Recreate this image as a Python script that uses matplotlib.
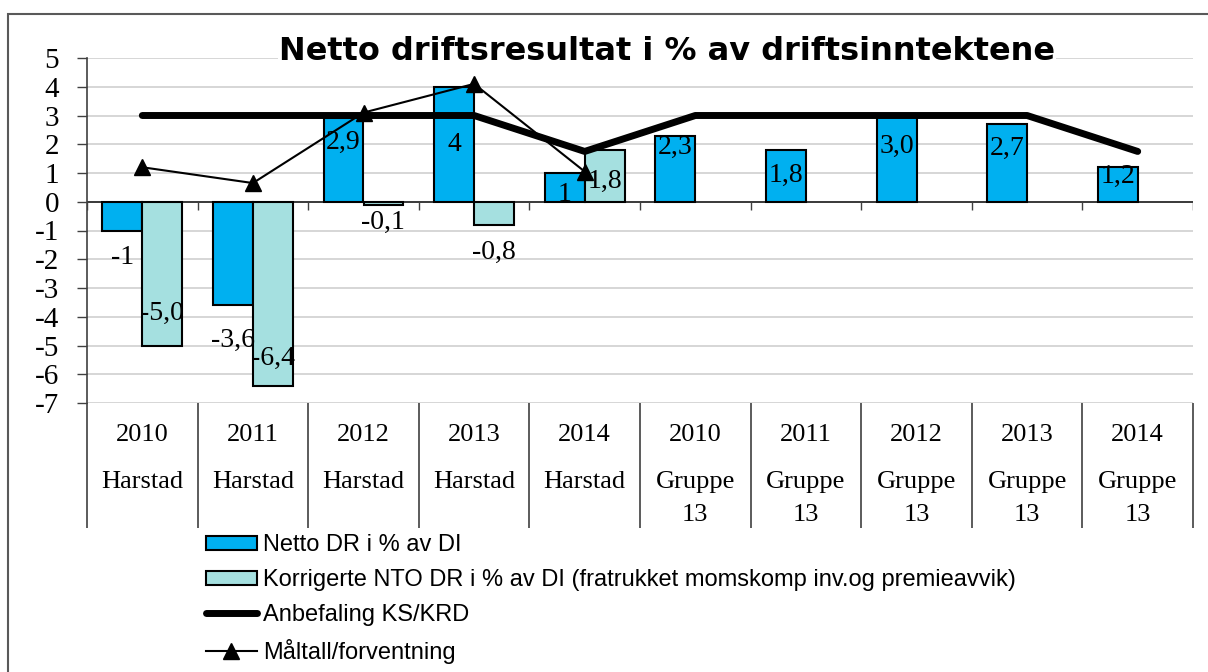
import numpy as np
import matplotlib
matplotlib.use('Agg')
from matplotlib import pyplot as plt
from matplotlib.patches import Patch, Rectangle
from matplotlib.lines import Line2D
import matplotlib.transforms as mtransforms

#####

years = ['2010', '2011', '2012', '2013', '2014'] * 2
groups = ['Harstad'] * 5 + ['Gruppe\n13'] * 5

netto = [-1, -3.6, 2.9, 4, 1, 2.3, 1.8, 3.0, 2.7, 1.2]
korr = [-5.0, -6.4, -0.1, -0.8, 1.8, np.nan, np.nan, np.nan, np.nan, np.nan]
anbefaling = [3, 3, 3, 3, 1.75, 3, 3, 3, 3, 1.75]
maltall = [1.2, 0.65, 3.1, 4.1, 1.05]

names = ['Netto DR i % av DI',
         'Korrigerte NTO DR i % av DI (fratrukket momskomp inv.og premieavvik)',
         'Anbefaling KS/KRD',
         'Måltall/forventning']
title = 'Netto driftsresultat i % av driftsinntektene'

# where the data labels sit (y, data units) - placed by hand in the original
netto_lab_y = [-1.95, -4.83, 2.05, 1.98, 0.24, 1.88, 0.91, 1.92, 1.84, 0.88]
korr_lab_y = [-3.87, -5.45, -0.72, -1.75, 0.72]

#####

plt.rcParams['axes.unicode_minus'] = False

W, H = 1208., 672.
serif = 'Liberation Serif'
c_netto = '#00B0F0'
c_korr = '#A5E0E0'

fig = plt.figure(figsize=(W/100, H/100), dpi=100)
ax = fig.add_axes([87/W, 1-403/H, (1193-87)/W, (403-58)/H])

x = np.arange(len(years))
bw = 0.36

ax.bar(x - bw/2, netto, bw, color=c_netto, edgecolor='black', lw=1.5, zorder=2)
ax.bar(x + bw/2, korr, bw, color=c_korr, edgecolor='black', lw=1.5, zorder=2)
ax.plot(x, anbefaling, color='black', lw=5, solid_capstyle='round', zorder=3)
ax.plot(x[:len(maltall)], maltall, color='black', lw=1.5, marker='^', ms=11, zorder=4)

ax.set_xlim(-0.5, 9.5)
ax.set_ylim(-7, 5)
ax.set_yticks(range(-7, 6))
ax.set_xticks([])
ax.yaxis.grid(True, color='#D3D3D3', lw=1.3)
ax.set_axisbelow(True)
for s in ['top', 'right', 'bottom']:
    ax.spines[s].set_visible(False)
ax.spines['left'].set_color('#404040')
ax.spines['left'].set_linewidth(1.2)
ax.tick_params(axis='y', length=7, width=1, color='#404040', pad=13, labelsize=21)
for lbl in ax.get_yticklabels():
    lbl.set_fontfamily(serif)

# zero line with small ticks at the category borders
ax.axhline(0, color='#202020', lw=1.2, zorder=1.5)
bounds = np.arange(-0.5, 10, 1.0)
ax.vlines(bounds, -0.28, 0, color='#404040', lw=1)

# category "table" below the plot
trans = mtransforms.blended_transform_factory(ax.transData, ax.transAxes)
ax.vlines(bounds, -125/345., 0, color='#404040', lw=1.2, transform=trans, clip_on=False)
for i in range(len(years)):
    ax.annotate(years[i], xy=(i, 0), xycoords=trans, xytext=(0, -32), textcoords='offset pixels',
                ha='center', va='center', fontsize=19, family=serif)
    for j, line in enumerate(groups[i].split('\n')):
        ax.annotate(line, xy=(i, 0), xycoords=trans, xytext=(0, -79 - 33*j), textcoords='offset pixels',
                    ha='center', va='center', fontsize=19, family=serif)

# data labels
for i in range(len(netto)):
    if i < 5:
        txt = '{:g}'.format(netto[i])
    else:
        txt = '{:.1f}'.format(netto[i])
    ax.text(x[i] - bw/2, netto_lab_y[i], txt.replace('.', ','), ha='center', va='center',
            fontsize=20, family=serif, zorder=5)
for i in range(len(korr_lab_y)):
    txt = '{:.1f}'.format(korr[i])
    ax.text(x[i] + bw/2, korr_lab_y[i], txt.replace('.', ','), ha='center', va='center',
            fontsize=20, family=serif, zorder=5)

fig.text(667/W, 1-51/H, title, ha='center', va='center', fontsize=23, fontweight='bold',
         family='DejaVu Sans', bbox=dict(facecolor='white', edgecolor='none', pad=0.5), zorder=5)

handles = [Patch(facecolor=c_netto, edgecolor='black', lw=1.5),
           Patch(facecolor=c_korr, edgecolor='black', lw=1.5),
           Line2D([], [], color='black', lw=5, solid_capstyle='round'),
           Line2D([], [], color='black', lw=1.5, marker='^', ms=11)]
fig.legend(handles, names, loc='upper left', bbox_to_anchor=(206/W, 1-534/H), frameon=False,
           prop={'family': 'Liberation Sans', 'size': 17}, handlelength=2.15, handletextpad=0.25,
           labelspacing=0.55, borderpad=0, borderaxespad=0, handleheight=0.55, numpoints=1)

fig.add_artist(Rectangle((8/W, -0.1), 1.1, 1.1 - 14/H, transform=fig.transFigure,
                         fill=False, edgecolor='#595959', lw=1.5))

fig.savefig('out.png', dpi=100)
